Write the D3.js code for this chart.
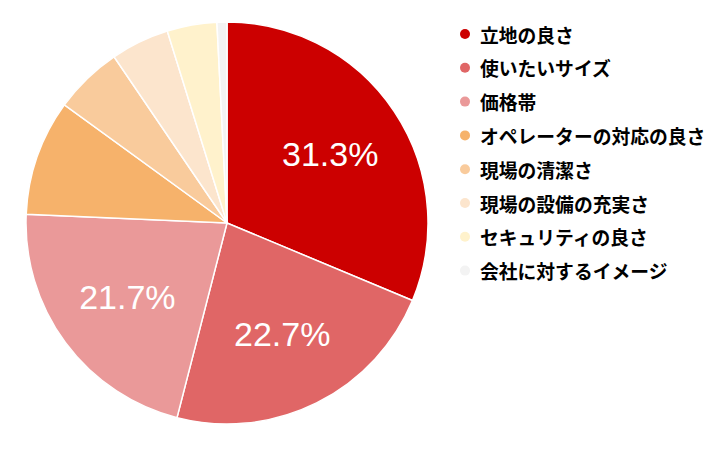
<!DOCTYPE html>
<html><head><meta charset="utf-8">
<script src="https://cdn.jsdelivr.net/npm/d3@7"></script>
<style>html,body{margin:0;padding:0;background:#fff;}</style>
</head><body>
<svg id="c" width="725" height="449"></svg>
<script>
const categories = ["立地の良さ","使いたいサイズ","価格帯","オペレーターの対応の良さ","現場の清潔さ","現場の設備の充実さ","セキュリティの良さ","会社に対するイメージ"];
const values = [31.3, 22.7, 21.7, 9.3, 5.5, 4.7, 4.0, 0.8];
const colors = ["#cc0000","#e06666","#ea9999","#f6b26b","#f9cb9c","#fce5cd","#fff2cc","#f3f3f3"];

const svg = d3.select("#c");
const cx = 227, cy = 223, R = 201;
const data = categories.map((c,i)=>({name:c, value:values[i], color:colors[i]}));
const pie = d3.pie().value(d=>d.value).sort(null);
const arcs = pie(data);
const arc = d3.arc().innerRadius(0).outerRadius(R);
const labelArc = d3.arc().innerRadius(124).outerRadius(124);

const g = svg.append("g").attr("transform",`translate(${cx},${cy})`);
g.selectAll("path").data(arcs).join("path")
  .attr("d",arc).attr("fill",d=>d.data.color)
  .attr("stroke","#fff").attr("stroke-width",1.5);

g.selectAll("text").data(arcs.filter(d=>d.data.value>=15)).join("text")
  .attr("transform",d=>`translate(${labelArc.centroid(d)})`)
  .attr("text-anchor","middle").attr("dominant-baseline","central")
  .attr("font-family","'Liberation Sans', Arial, sans-serif")
  .attr("font-size",34).attr("fill","#fff")
  .text(d=>d.data.value.toFixed(1)+"%");

const y = d3.scalePoint().domain(categories).range([34, 34+33.8*7]);
const lg = svg.append("g");
const rows = lg.selectAll("g").data(data).join("g")
  .attr("transform",d=>`translate(465,${y(d.name)})`);
rows.append("circle").attr("r",5).attr("fill",d=>d.color);
rows.append("text").attr("x",15).attr("dominant-baseline","central")
  .attr("font-family","'Noto Sans CJK JP', sans-serif").attr("font-weight","bold")
  .attr("font-size",18.8).attr("fill","#000")
  .text(d=>d.name);
</script>
</body></html>
